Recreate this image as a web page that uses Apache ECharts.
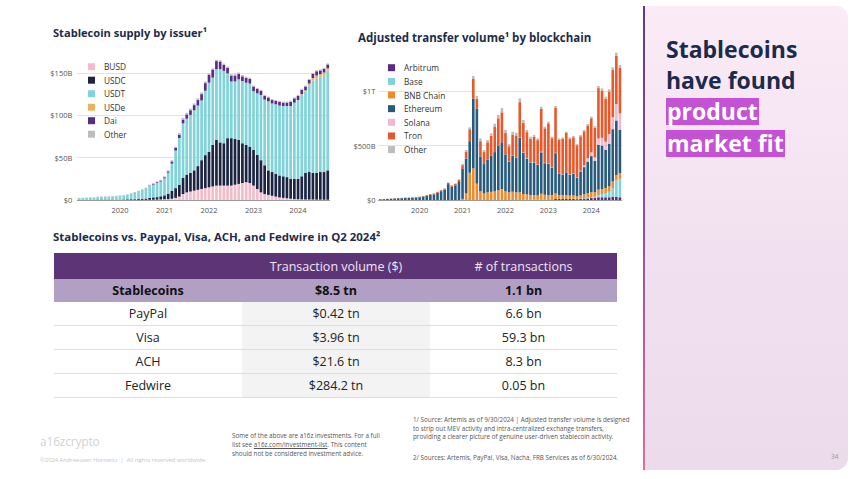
<!DOCTYPE html>
<html><head><meta charset="utf-8">
<script src="https://cdn.jsdelivr.net/npm/echarts@6/dist/echarts.min.js"></script>
<style>
html,body{margin:0;padding:0;}
body{width:860px;height:479px;position:relative;overflow:hidden;background:#fff;font-family:"Open Sans",sans-serif;}
#chart{position:absolute;left:0;top:0;width:640px;height:225px;}
.abs{position:absolute;white-space:nowrap;}
.ttl{font-weight:700;font-size:11.2px;line-height:16px;color:#1d2b49;}
#tbl{position:absolute;left:54px;top:253px;width:563px;font-size:12.5px;color:#222;}
.row{display:flex;width:563px;}
.cell{display:flex;align-items:center;justify-content:center;box-sizing:border-box;}
#panel{position:absolute;left:643px;top:6px;width:205px;height:464px;border-radius:0 12px 12px 0;background:linear-gradient(180deg,#fbebf6 0%,#f1e1f0 55%,#ebdbeb 100%);}
#pbar{position:absolute;left:643px;top:6px;width:2px;height:464px;background:linear-gradient(180deg,#5a3b8d 0%,#9a4f9d 50%,#e26c98 100%);}
.big{position:absolute;left:666px;font-weight:700;font-size:23px;color:#1b2b4b;white-space:nowrap;}
.hl{display:inline-block;vertical-align:top;background:#c552d5;color:#fff;height:27px;line-height:26px;padding:0 1px;}
.note{position:absolute;font-size:6.3px;line-height:8.6px;color:#555;white-space:nowrap;}
</style></head><body>
<div id="panel"></div><div id="pbar"></div>
<div class="big" style="top:34px;line-height:31px;">Stablecoins</div>
<div class="big" style="top:65px;line-height:31px;">have found</div>
<div class="big" style="top:98px;line-height:27px;"><span class="hl">product</span></div>
<div class="big" style="top:130px;line-height:27px;"><span class="hl">market fit</span></div>
<div class="abs" style="left:831px;top:452px;font-size:6.5px;color:#999;">34</div>

<div class="abs ttl" style="left:53px;top:25px;font-size:11.1px;">Stablecoin supply by issuer¹</div>
<div class="abs ttl" style="left:358px;top:30px;font-size:11.5px;">Adjusted transfer volume¹ by blockchain</div>
<div id="chart"></div>
<div class="abs ttl" style="left:53px;top:229px;font-size:11.45px;">Stablecoins vs. Paypal, Visa, ACH, and Fedwire in Q2 2024²</div>
<div id="tbl"></div>

<div class="abs" style="left:40px;top:433px;font-size:12px;color:#d3d3d3;letter-spacing:-0.2px;">a16zcrypto</div>
<div class="abs" style="left:40px;top:456px;font-size:5.8px;color:#c6c6c6;">©2024 Andreessen Horowitz&nbsp; |&nbsp; All rights reserved worldwide.</div>
<div class="note" style="left:232px;top:432px;line-height:8.9px;">Some of the above are a16z investments. For a full<br>list see <u>a16z.com/investment-list</u>. This content<br>should not be considered investment advice.</div>
<div class="note" style="left:413px;top:416px;">1/ Source: Artemis as of 9/30/2024 | Adjusted transfer volume is designed<br>to strip out MEV activity and intra-centralized exchange transfers,<br>providing a clearer picture of genuine user-driven stablecoin activity.</div>
<div class="note" style="left:413px;top:454px;">2/ Sources: Artemis, PayPal, Visa, Nacha, FRB Services as of 6/30/2024.</div>

<script>
// ---------- categories (monthly, Feb 2019 – Sep 2024) ----------
const months = [
 '2019-02','2019-03','2019-04','2019-05','2019-06','2019-07','2019-08','2019-09','2019-10','2019-11','2019-12',
 '2020-01','2020-02','2020-03','2020-04','2020-05','2020-06','2020-07','2020-08','2020-09','2020-10','2020-11','2020-12',
 '2021-01','2021-02','2021-03','2021-04','2021-05','2021-06','2021-07','2021-08','2021-09','2021-10','2021-11','2021-12',
 '2022-01','2022-02','2022-03','2022-04','2022-05','2022-06','2022-07','2022-08','2022-09','2022-10','2022-11','2022-12',
 '2023-01','2023-02','2023-03','2023-04','2023-05','2023-06','2023-07','2023-08','2023-09','2023-10','2023-11','2023-12',
 '2024-01','2024-02','2024-03','2024-04','2024-05','2024-06','2024-07','2024-08','2024-09'];

// ---------- Stablecoin supply by issuer ($B) ----------
const supplyBUSD = [0,0,0,0,0,0,0,0.02,0.05,0.1,0.15,
 0.2,0.2,0.2,0.2,0.2,0.2,0.2,0.2,0.2,0.3,0.4,0.6,
 0.8,1,1.5,2.5,4,7,9,10,11,12,13,14,
 15,16,17,17,17,17,17,18,19,20,21,20,
 17,13,9,7,6,5,4,3,2.5,2,1.5,1,
 0.8,0.7,0.6,0.5,0.5,0.4,0.4,0.3,0.3];
const supplyUSDC = [0.25,0.25,0.25,0.3,0.35,0.45,0.5,0.45,0.45,0.45,0.5,
 0.5,0.55,0.7,0.8,0.8,1.0,1.2,1.6,2.2,2.8,3.0,3.8,
 4.7,6.5,9.5,11.5,14,19,21,22,24,28,34,39,
 42,49,54,51,50,56,56,54,52,47,44,43,
 42,40,38,34,29,28,27,26,25.5,25,23.5,24,
 24.2,27.3,31.4,32.5,31.5,31.6,32.6,32.7,34.7];
const supplyUSDT = [1.9,2.0,2.1,2.3,2.6,2.9,3.1,3.2,3.3,3.5,3.7,
 4.0,4.4,5.0,6.4,7.9,9.1,10.3,11.6,14.1,15.1,16.7,17.4,
 20.0,24.7,32.0,44.4,55.2,64.5,66.0,68.5,71.0,71.5,70.5,76.0,
 81.5,79.5,83.5,86.5,85.5,76.5,67,68,71.5,73.5,73.5,74.5,
 69.5,73,77,77.5,81.5,81,82,82.5,83,84,86,90,
 92.9,96.7,96,102.2,109.2,111.4,112.3,114.6,117.9];
const supplyUSDe = [0,0,0,0,0,0,0,0,0,0,0,
 0,0,0,0,0,0,0,0,0,0,0,0,
 0,0,0,0,0,0,0,0,0,0,0,0,
 0,0,0,0,0,0,0,0,0,0,0,0,
 0,0,0,0,0,0,0,0,0,0,0,0,
 0.1,0.3,1.5,2.3,2.8,3.6,3.2,2.9,2.6];
const supplyDai = [0.08,0.08,0.09,0.1,0.1,0.1,0.1,0.1,0.1,0.1,0.1,
 0.1,0.1,0.1,0.1,0.1,0.1,0.15,0.3,0.6,0.8,0.9,1.1,
 1.3,1.5,2.5,3,4,4.5,5,5.5,6,6.5,7.5,9,
 9.5,9.5,9.5,9,7,6.5,7,7,6.5,5.5,5.5,5.5,
 5.5,5,5,4.5,4.5,4,4,4.5,4,4,5,5,
 5,5,4.5,4.5,5,5,4.5,4.5,4.5];
const supplyOther = [0.3,0.35,0.35,0.4,0.4,0.4,0.4,0.45,0.45,0.45,0.5,
 0.5,0.5,0.5,0.5,0.5,0.6,0.7,0.8,0.9,1.0,1.0,1.1,
 1.2,1.3,1.5,1.6,1.8,2,2,2,2,2,2,2,
 1.5,1.5,1.5,1.5,1.5,1.5,1.5,1.5,1.5,1.5,1.5,1.5,
 1.2,1.2,1.2,1.2,1.2,1.2,1.2,1.2,1.2,1.2,1.2,1.2,
 1.2,1.2,1.2,1.2,1.2,1.2,1.2,1.2,1.2];

// ---------- Adjusted transfer volume by blockchain ($B) ----------
const volArbitrum = [0,0,0,0,0,0,0,0,0,0,0,
 0,0,0,0,0,0,0,0,0,0,0,0,
 0,0,0,0,0,0,0,0,0,0,0,0,
 0,0,0,0,0,0,1,1,1,2,3,3,
 4,5,10,10,10,10,10,10,8,10,12,15,
 18,18,25,25,25,25,30,30,25];
const volBase = [0,0,0,0,0,0,0,0,0,0,0,
 0,0,0,0,0,0,0,0,0,0,0,0,
 0,0,0,0,0,0,0,0,0,0,0,0,
 0,0,0,0,0,0,0,0,0,0,0,0,
 0,0,0,0,0,0,0,2,2,3,5,8,
 10,12,20,30,40,50,80,150,170];
const volBNB = [0,0,0,0,0,0,0,0,0,0,0,
 0,0,0,0,0,0,0,0,0,0,0,0,
 10,60,250,290,150,80,60,70,75,80,90,100,
 80,70,75,70,70,55,50,45,45,40,55,45,
 40,40,50,35,35,35,30,30,25,30,35,40,
 45,40,50,45,45,50,60,50,50];
const volEthereum = [7,8,9.5,12,14.5,16,17,18.5,19.5,22,23.5,
 26,31,39,47,52,66,81,95,146,122,135,165,
 275,320,290,640,690,320,270,300,330,360,410,430,
 340,280,330,320,500,380,330,300,300,280,380,290,
 290,250,370,200,190,210,190,200,170,220,250,290,
 330,290,410,400,350,390,480,500,400];
const volSolana = [0,0,0,0,0,0,0,0,0,0,0,
 0,0,0,0,0,0,0,0,0,0,0,0,
 0,0,0,0,0,0,0,0,0,0,0,0,
 2,2,2,2,3,3,3,3,3,3,5,3,
 3,3,3,3,3,3,3,3,3,5,15,30,
 35,30,60,70,75,90,110,150,150];
const volTron = [0.5,0.5,1,1.5,2,2.5,2.5,3,3,3.5,4,
 4,5,6,7,8,8.5,9,10,12,12,14,20,
 35,65,110,185,90,140,110,160,185,235,250,275,
 196,142,195,201,325,271,239,214,230,225,394,317,
 367,270,415,306,325,357,330,331,294,317,314,302,
 312,274,462,435,394,391,433,442,419];
const volOther = [0.5,0.5,0.5,0.5,0.5,0.5,0.5,0.5,0.5,0.5,0.5,
 1,1,1,1,1,1.5,2,2,4,4,4,5,
 10,14,17,23,25,26,19,21,22,25,30,40,
 25,20,25,25,35,25,20,18,18,16,20,15,
 15,13,15,12,12,12,12,12,12,12,12,13,
 15,15,20,20,20,20,25,30,25];

// ---------- table ----------
const tableHeader = ['', 'Transaction volume ($)', '# of transactions'];
const tableRows = [
 ['Stablecoins', '$8.5 tn', '1.1 bn'],
 ['PayPal', '$0.42 tn', '6.6 bn'],
 ['Visa', '$3.96 tn', '59.3 bn'],
 ['ACH', '$21.6 tn', '8.3 bn'],
 ['Fedwire', '$284.2 tn', '0.05 bn']
];

// build table
(function(){
  const tbl = document.getElementById('tbl');
  const widths = [188,188,187];
  const mkRow = (cells, h, styleFn) => {
    const r = document.createElement('div'); r.className = 'row'; r.style.height = h + 'px';
    cells.forEach((c, j) => {
      const d = document.createElement('div'); d.className = 'cell';
      d.style.width = widths[j] + 'px'; d.style.height = h + 'px';
      d.textContent = c; styleFn(d, j); r.appendChild(d);
    });
    tbl.appendChild(r);
  };
  mkRow(tableHeader, 26, (d) => { d.style.background = '#5d3577'; d.style.color = '#efe6f4'; });
  tableRows.forEach((row, i) => {
    if (i === 0) {
      mkRow(row, 23, (d) => { d.style.background = '#b19fc4'; d.style.fontWeight = '700'; d.style.color = '#111'; });
    } else {
      mkRow(row, 24, (d, j) => {
        d.style.background = j === 1 ? '#f3f3f3' : '#fff';
        d.style.borderBottom = '1px solid #dedede';
      });
    }
  });
})();

// ---------- chart ----------
const chart = echarts.init(document.getElementById('chart'), null, {renderer: 'svg'});
const supplyNames = ['BUSD','USDC','USDT','USDe','Dai','Other'];
const supplyColors = ['#f4bccb','#1b2543','#80d3d9','#f0b257','#5b2a86','#bdbdbd'];
const supplyData = [supplyBUSD, supplyUSDC, supplyUSDT, supplyUSDe, supplyDai, supplyOther];
const volNames = ['Arbitrum','Base','BNB Chain','Ethereum','Solana','Tron','Other'];
const volColors = ['#5b2a86','#7fd3da','#ef8b2c','#275b7d','#f2b6cf','#e8582a','#bdbdbd'];
const volData = [volArbitrum, volBase, volBNB, volEthereum, volSolana, volTron, volOther];

const series = [];
supplyNames.forEach((n, k) => series.push({
  name: n, type: 'bar', stack: 'supply', xAxisIndex: 0, yAxisIndex: 0,
  data: supplyData[k], itemStyle: {color: supplyColors[k]}, barCategoryGap: '27%',
  emphasis: {disabled: true}
}));
volNames.forEach((n, k) => series.push({
  name: n, type: 'bar', stack: 'vol', xAxisIndex: 1, yAxisIndex: 1,
  data: volData[k], itemStyle: {color: volColors[k]}, barCategoryGap: '27%',
  emphasis: {disabled: true}
}));

const xAxisCommon = {
  type: 'category', data: months,
  axisTick: {show: false},
  axisLine: {lineStyle: {color: '#9a9a9a', width: 1}},
  axisLabel: {
    interval: (idx, val) => val.slice(5) === '01',
    formatter: (val) => val.slice(0, 4),
    fontSize: 7.5, color: '#555', margin: 6
  }
};
const yLabel = {fontSize: 7.5, color: '#555'};
const legendCommon = {
  orient: 'vertical', itemWidth: 7, itemHeight: 7, icon: 'rect', padding: 0,
  selectedMode: false,
  textStyle: {fontSize: 8.3, color: '#333', lineHeight: 10, padding: [0,0,0,4]}
};

chart.setOption({
  animation: false,
  textStyle: {fontFamily: '"Open Sans", sans-serif'},
  grid: [
    {left: 77.3, top: 30.6, width: 252.3, height: 169.4, outerBoundsMode: 'none'},
    {left: 378.5, top: 36.6, width: 243.2, height: 163.4, outerBoundsMode: 'none'}
  ],
  xAxis: [Object.assign({gridIndex: 0}, xAxisCommon), Object.assign({gridIndex: 1}, xAxisCommon)],
  yAxis: [
    {gridIndex: 0, type: 'value', min: 0, max: 200, interval: 50,
     axisLine: {show: false}, axisTick: {show: false},
     splitLine: {showMaxLine: false, lineStyle: {color: '#e2e2e2', width: 1}},
     axisLabel: Object.assign({margin: 5, showMaxLabel: false,
       formatter: v => v === 0 ? '$0' : '$' + v + 'B'}, yLabel)},
    {gridIndex: 1, type: 'value', min: 0, max: 1500, interval: 500,
     axisLine: {show: false}, axisTick: {show: false},
     splitLine: {showMaxLine: false, lineStyle: {color: '#e2e2e2', width: 1}},
     axisLabel: Object.assign({margin: 3, showMaxLabel: false,
       formatter: v => v === 0 ? '$0' : (v >= 1000 ? '$' + (v / 1000) + 'T' : '$' + v + 'B')}, yLabel)}
  ],
  legend: [
    Object.assign({left: 88, top: 61.7, itemGap: 3.5, data: supplyNames}, legendCommon),
    Object.assign({left: 388, top: 62.7, itemGap: 3.65, data: volNames}, legendCommon)
  ],
  series: series
});
</script>
</body></html>
